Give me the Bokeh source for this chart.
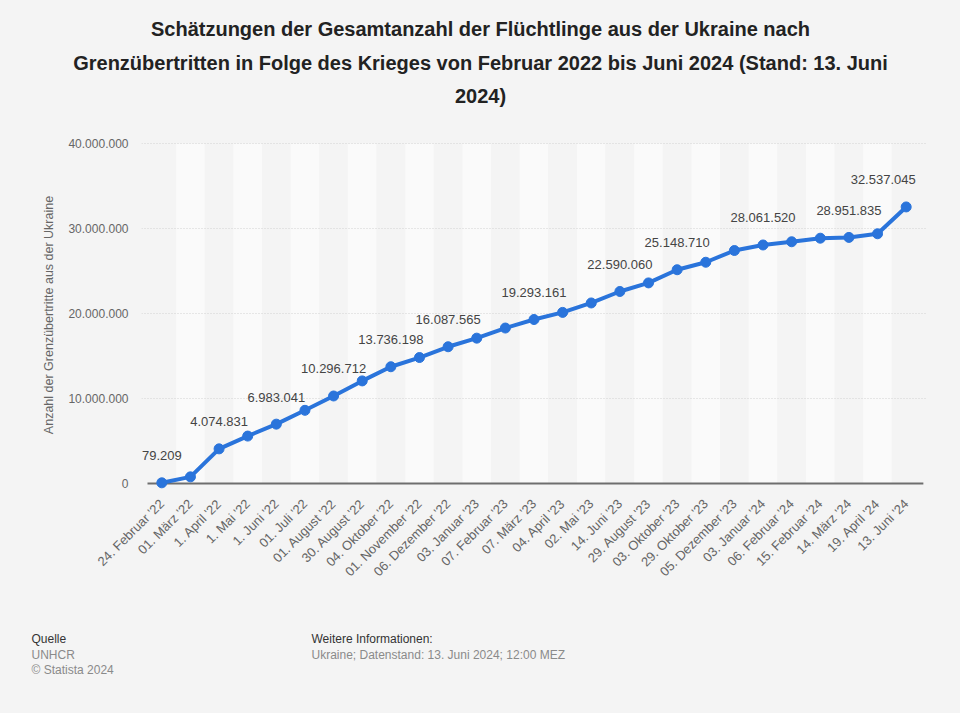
import math
from bokeh.plotting import figure
from bokeh.layouts import column
from bokeh.models import ColumnDataSource, Range1d, FixedTicker
from bokeh.core.properties import value
from bokeh.embed import file_html
from bokeh.resources import INLINE

# ---------------- data ----------------
dates = ["24. Februar '22", "01. März '22", "1. April '22", "1. Mai '22", "1. Juni '22",
         "01. Juli '22", "01. August '22", "30. August '22", "04. Oktober '22",
         "01. November '22", "06. Dezember '22", "03. Januar '23", "07. Februar '23",
         "07. März '23", "04. April '23", "02. Mai '23", "14. Juni '23", "29. August '23",
         "03. Oktober '23", "29. Oktober '23", "05. Dezember '23", "03. Januar '24",
         "06. Februar '24", "15. Februar '24", "14. März '24", "19. April '24", "13. Juni '24"]
refugees = [79209, 780000, 4074831, 5580000, 6983041, 8610000, 10296712, 12070000,
            13736198, 14820000, 16087565, 17100000, 18290000, 19293161, 20130000,
            21240000, 22590060, 23600000, 25148710, 26030000, 27410000, 28061520,
            28440000, 28860000, 28951835, 29380000, 32537045]
value_labels = ["79.209", "", "4.074.831", "", "6.983.041", "", "10.296.712", "",
                "13.736.198", "", "16.087.565", "", "", "19.293.161", "", "",
                "22.590.060", "", "25.148.710", "", "", "28.061.520", "", "",
                "28.951.835", "", "32.537.045"]
y_ticks = [0, 10000000, 20000000, 30000000, 40000000]
y_tick_labels = ["0", "10.000.000", "20.000.000", "30.000.000", "40.000.000"]

title_lines = ["Schätzungen der Gesamtanzahl der Flüchtlinge aus der Ukraine nach",
               "Grenzübertritten in Folge des Krieges von Februar 2022 bis Juni 2024 (Stand: 13. Juni",
               "2024)"]
y_title = "Anzahl der Grenzübertritte aus der Ukraine"
source_lines = ["Quelle", "UNHCR", "© Statista 2024"]
info_lines = ["Weitere Informationen:", "Ukraine; Datenstand: 13. Juni 2024; 12:00 MEZ"]

# ---------------- layout (page px) ----------------
W = 960
TITLE_H, MAIN_H, FOOT_H = 120, 500, 93
BAND_L, BAND_R = 147, 920          # outer edges of first / last category band
FRAME_L, FRAME_R = 141, 926
FRAME_T, FRAME_B = 139, 490
Y0_PX, YTOP_PX = 483, 143

FONT = "Liberation Sans"
BG = "#f4f4f4"
BLUE = "#2a74db"

n = len(dates)
idx = list(range(n))
step = (BAND_R - BAND_L) / n
x_start = -0.5 - (BAND_L - FRAME_L) / step
x_end = n - 0.5 + (FRAME_R - BAND_R) / step
px_per = (Y0_PX - YTOP_PX) / y_ticks[-1]
y_start = -(FRAME_B - Y0_PX) / px_per
y_end = y_ticks[-1] + (YTOP_PX - FRAME_T) / px_per


def text_fig(h, top):
    f = figure(width=W, height=h, output_backend="svg", toolbar_location=None,
               x_range=Range1d(0, W), y_range=Range1d(top + h, top),
               x_axis_type=None, y_axis_type=None, min_border=0, frame_align=False)
    f.background_fill_color = BG
    f.border_fill_color = BG
    f.outline_line_color = None
    f.grid.visible = False
    return f


# ---------------- title ----------------
t = text_fig(TITLE_H, 0)
t.text(x=[480] * 3, y=[28, 62, 95], text=title_lines, text_align="center",
       text_baseline="middle", text_font=value(FONT), text_font_size="20px",
       text_font_style="bold", text_color="#222222")

# ---------------- main chart ----------------
p = figure(width=W, height=MAIN_H, output_backend="svg", toolbar_location=None,
           x_range=Range1d(x_start, x_end), y_range=Range1d(y_start, y_end),
           min_border_left=FRAME_L, min_border_right=W - FRAME_R,
           min_border_top=FRAME_T - TITLE_H, min_border_bottom=TITLE_H + MAIN_H - FRAME_B,
           frame_align=False)
p.background_fill_color = BG
p.border_fill_color = BG
p.outline_line_color = None

band_colors = ["#f4f4f4" if i % 2 == 0 else "#fafafa" for i in idx]
bands = p.vbar(x=idx, top=[y_ticks[-1]] * n, bottom=0, width=1.0,
               fill_color=band_colors, line_color=None)
bands.level = "image"

p.xgrid.grid_line_color = None
p.ygrid.ticker = FixedTicker(ticks=y_ticks[1:])
p.ygrid.grid_line_color = "#d2d2d2"
p.ygrid.grid_line_dash = "1 2"
p.ygrid.grid_line_width = 1

p.segment(x0=[idx[0] - 0.5], x1=[idx[-1] + 0.6], y0=[0], y1=[0],
          line_color="#6e6e6e", line_width=2)

p.line(x=idx, y=refugees, line_color=BLUE, line_width=4, line_join="round")
p.scatter(x=idx, y=refugees, size=10, fill_color=BLUE, line_color=BLUE)

lab_idx = [i for i, s in enumerate(value_labels) if s and i != n - 1]
src = ColumnDataSource(dict(x=lab_idx, y=[refugees[i] for i in lab_idx],
                            t=[value_labels[i] for i in lab_idx]))
p.text(x="x", y="y", text="t", source=src, text_align="center", text_baseline="middle",
       y_offset=-27, text_font=value(FONT), text_font_size="13px", text_color="#444444")
p.text(x=[idx[-1]], y=[refugees[-1]], text=[value_labels[-1]], text_align="center",
       text_baseline="middle", x_offset=-23, y_offset=-27, text_font=value(FONT),
       text_font_size="13px", text_color="#444444")

ya = p.yaxis[0]
ya.ticker = FixedTicker(ticks=y_ticks)
ya.major_label_overrides = {tk: lb for tk, lb in zip(y_ticks, y_tick_labels)}
ya.axis_line_color = None
ya.major_tick_line_color = None
ya.minor_tick_line_color = None
ya.major_tick_out = 0
ya.major_tick_in = 0
ya.major_label_standoff = 13
ya.major_label_text_font = FONT
ya.major_label_text_font_size = "12px"
ya.major_label_text_color = "#666666"
ya.axis_label = y_title
ya.axis_label_text_font = FONT
ya.axis_label_text_font_size = "12.5px"
ya.axis_label_text_font_style = "normal"
ya.axis_label_text_color = "#666666"
ya.axis_label_standoff = 9

xa = p.xaxis[0]
xa.ticker = FixedTicker(ticks=idx)
xa.major_label_overrides = {i: d for i, d in zip(idx, dates)}
xa.axis_line_color = None
xa.major_tick_line_color = None
xa.minor_tick_line_color = None
xa.major_tick_out = 0
xa.major_tick_in = 0
xa.major_label_orientation = math.pi / 4
xa.major_label_standoff = 11
xa.major_label_text_font = FONT
xa.major_label_text_font_size = "13px"
xa.major_label_text_color = "#666666"

# ---------------- footer ----------------
top_f = TITLE_H + MAIN_H
f = text_fig(FOOT_H, top_f)
f.text(x=[31] * 3, y=[638, 654, 669], text=source_lines, text_align="left",
       text_baseline="middle", text_font=value(FONT), text_font_size="12px",
       text_color=["#333333", "#8a8a8a", "#8a8a8a"])
f.text(x=[311] * 2, y=[638, 654], text=info_lines, text_align="left",
       text_baseline="middle", text_font=value(FONT), text_font_size="12px",
       text_color=["#333333", "#8a8a8a"])

layout = column(t, p, f, spacing=0, styles={"background-color": BG})
open("out.html", "w").write(file_html(layout, INLINE))
